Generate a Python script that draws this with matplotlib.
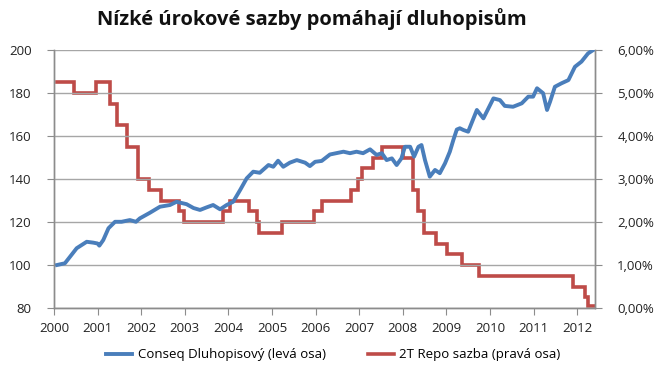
import numpy as np
import matplotlib
matplotlib.use('Agg')
import matplotlib.pyplot as plt
from matplotlib.ticker import FuncFormatter

# Conseq bond index (left axis)
bond_t = [2000.07, 2000.25, 2000.37, 2000.52, 2000.75, 2000.90, 2001.00, 2001.04, 2001.13, 2001.25,
          2001.40, 2001.55, 2001.74, 2001.88, 2001.97, 2002.20, 2002.43, 2002.66, 2002.81, 2003.04,
          2003.20, 2003.35, 2003.50, 2003.65, 2003.81, 2003.96, 2004.11, 2004.27, 2004.42, 2004.57,
          2004.72, 2004.92, 2005.03, 2005.14, 2005.26, 2005.41, 2005.57, 2005.76, 2005.87, 2005.99,
          2006.14, 2006.33, 2006.52, 2006.64, 2006.79, 2006.94, 2007.09, 2007.25, 2007.40, 2007.52,
          2007.63, 2007.75, 2007.86, 2007.97, 2008.05, 2008.17, 2008.26, 2008.36, 2008.43, 2008.51,
          2008.62, 2008.74, 2008.85, 2008.97, 2009.08, 2009.16, 2009.24, 2009.31, 2009.39, 2009.50,
          2009.70, 2009.85, 2010.08, 2010.23, 2010.34, 2010.53, 2010.73, 2010.88, 2010.99, 2011.08,
          2011.22, 2011.31, 2011.38, 2011.49, 2011.64, 2011.80, 2011.95, 2012.10, 2012.25, 2012.37]
bond_v = [100.0, 100.8, 103.9, 107.8, 110.8, 110.4, 110.0, 109.0, 111.6, 117.1,
          120.1, 120.1, 120.9, 120.1, 121.7, 124.3, 127.1, 127.9, 129.4, 128.3,
          126.5, 125.6, 126.8, 127.9, 125.9, 127.9, 129.4, 134.9, 140.3, 143.4,
          142.9, 146.5, 145.7, 148.5, 145.7, 147.6, 148.8, 147.6, 146.0, 148.0,
          148.4, 151.4, 152.2, 152.7, 152.0, 152.7, 152.0, 153.8, 151.2, 152.0,
          148.8, 149.6, 146.5, 149.6, 155.0, 155.0, 150.4, 155.0, 155.8, 148.8,
          141.1, 144.2, 142.7, 147.3, 152.7, 158.1, 163.0, 163.6, 162.8, 162.0,
          172.1, 168.2, 177.5, 176.7, 174.0, 173.6, 175.2, 178.3, 178.3, 182.2,
          179.9, 172.1, 176.0, 182.9, 184.5, 186.0, 192.2, 194.6, 198.4, 200.0]

# 2T repo rate in % (right axis), step changes
repo_t = [2000.07, 2000.46, 2000.96, 2001.28, 2001.45, 2001.68, 2001.92, 2002.18, 2002.45, 2002.87,
          2002.99, 2003.87, 2004.04, 2004.48, 2004.65, 2004.70, 2005.22, 2005.97, 2006.14, 2006.81,
          2006.98, 2007.07, 2007.32, 2007.53, 2008.01, 2008.24, 2008.36, 2008.49, 2008.76, 2009.01,
          2009.36, 2009.75, 2011.90, 2012.18, 2012.25, 2012.40]
repo_v = [5.25, 5.00, 5.25, 4.75, 4.25, 3.75, 3.00, 2.75, 2.50, 2.25,
          2.00, 2.25, 2.50, 2.25, 2.00, 1.75, 2.00, 2.25, 2.50, 2.75,
          3.00, 3.25, 3.50, 3.75, 3.50, 2.75, 2.25, 1.75, 1.50, 1.25,
          1.00, 0.75, 0.50, 0.25, 0.05, 0.05]

years = list(range(2000, 2013))
left_ticks = [80, 100, 120, 140, 160, 180, 200]
right_ticks = [0, 1, 2, 3, 4, 5, 6]

title = 'Nízké úrokové sazby pomáhají dluhopisům'
label_bond = 'Conseq Dluhopisový (levá osa)'
label_repo = '2T Repo sazba (pravá osa)'

blue = '#4a7ebb'
red = '#be4b48'
gray = '#8c8c8c'

plt.rcParams['font.family'] = ['Open Sans', 'DejaVu Sans']

fig = plt.figure(figsize=(6.6, 3.76), dpi=100)
ax = fig.add_axes([54/660, 1 - 308/376, 541/660, 258/376])
ax2 = ax.twinx()

ax.set_xlim(2000, 2012.41)
ax.set_ylim(80, 200)
ax2.set_ylim(0, 6)

ax.set_yticks(left_ticks)
ax.set_xticks(years)
ax2.set_yticks(right_ticks)
ax2.yaxis.set_major_formatter(FuncFormatter(lambda v, p: '{:.2f}%'.format(v).replace('.', ',')))

ax.grid(axis='y', color='#a6a6a6', linewidth=1)
ax.set_axisbelow(True)

for a in (ax, ax2):
    a.spines['top'].set_visible(False)
    for s in ('left', 'right', 'bottom'):
        a.spines[s].set_color(gray)
        a.spines[s].set_linewidth(1)

ax.tick_params(axis='y', length=5, color=gray, labelsize=9.5, pad=11, labelcolor='#222222')
ax.tick_params(axis='x', length=5, color=gray, labelsize=9.5, pad=5, labelcolor='#222222')
ax2.tick_params(axis='y', length=5, color=gray, labelsize=9.5, pad=11, labelcolor='#222222')

l1, = ax2.plot(repo_t, repo_v, drawstyle='steps-post', color=red, linewidth=2.6, solid_joinstyle='miter')
l0, = ax.plot(bond_t, bond_v, color=blue, linewidth=2.8)
ax.set_zorder(ax2.get_zorder() + 1)
ax.patch.set_visible(False)

fig.text(0.472, 0.95, title, ha='center', va='center', fontsize=14.5, fontweight='bold', color='#111111')

fig.legend([l0, l1], [label_bond, label_repo], loc='center', bbox_to_anchor=(0.505, 0.056),
           ncol=2, frameon=False, fontsize=9.5, handlelength=2.0, handletextpad=0.4,
           columnspacing=3.2)

fig.savefig('out.png', dpi=100)
